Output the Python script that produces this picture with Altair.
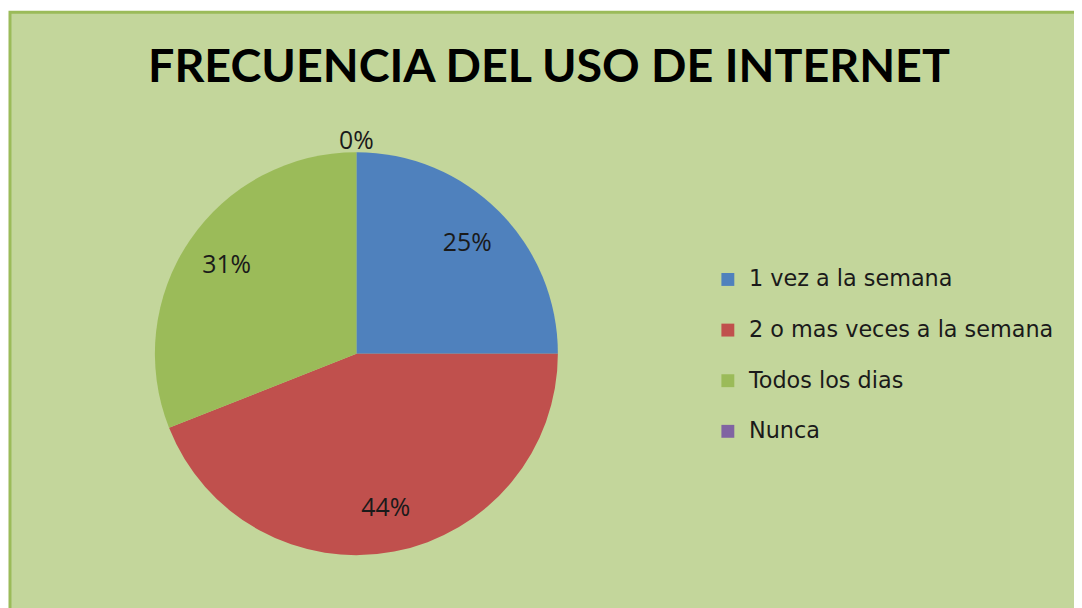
import altair as alt
import pandas as pd

categorias = ["1 vez a la semana", "2 o mas veces a la semana", "Todos los dias", "Nunca"]
porcentajes = [25, 44, 31, 0]
etiquetas = ["25%", "44%", "31%", "0%"]
colores = ["#4F81BD", "#C0504D", "#9BBB59", "#8064A2"]
titulo = "FRECUENCIA DEL USO DE INTERNET"

df = pd.DataFrame({
    "categoria": categorias,
    "pct": porcentajes,
    "etiqueta": etiquetas,
    "orden": list(range(len(categorias))),
})

W, H = 1074, 600
CX, CY, R = 351, 346, 203

fondo = alt.Chart(pd.DataFrame({"k": [0]})).mark_rect(
    fill="#C3D69B", stroke="#9BBB59", strokeWidth=3
).encode(
    x=alt.value(2), x2=alt.value(1100), y=alt.value(2), y2=alt.value(640)
)

tit = alt.Chart(pd.DataFrame({"t": [titulo]})).mark_text(
    font="Lato", fontWeight="bold", fontSize=47, color="#000000",
    align="center", baseline="middle"
).encode(x=alt.value(545), y=alt.value(58), text="t:N")

base = alt.Chart(df).encode(
    theta=alt.Theta("pct:Q", stack=True),
    order=alt.Order("orden:Q"),
)

pie = base.mark_arc(outerRadius=R).encode(
    x=alt.value(CX), y=alt.value(CY),
    color=alt.Color(
        "categoria:N",
        scale=alt.Scale(domain=categorias, range=colores),
        sort=categorias,
        legend=alt.Legend(
            orient="none", legendX=714, legendY=260, title=None,
            symbolType="square", symbolSize=169, symbolStrokeWidth=0,
            labelFontSize=22.5, labelFont="DejaVu Sans", labelColor="#1a1a1a",
            labelLimit=600, rowPadding=28, labelOffset=10, padding=0,
        ),
    ),
)

lab = base.transform_calculate(
    rad="datum.pct == 0 ? 214 : 158"
).mark_text(
    font="Open Sans", fontSize=25, color="#1a1a1a", align="center", baseline="middle"
).encode(
    x=alt.value(CX), y=alt.value(CY),
    radius=alt.Radius("rad:Q", scale=None),
    text="etiqueta:N",
)

chart = alt.layer(fondo, tit, pie, lab).properties(
    width=W, height=H, autosize=alt.AutoSizeParams(type="none"), padding=0,
    background="white",
).configure_view(stroke=None)

chart.save("out.html", embed_options={"renderer": "svg", "actions": False})
